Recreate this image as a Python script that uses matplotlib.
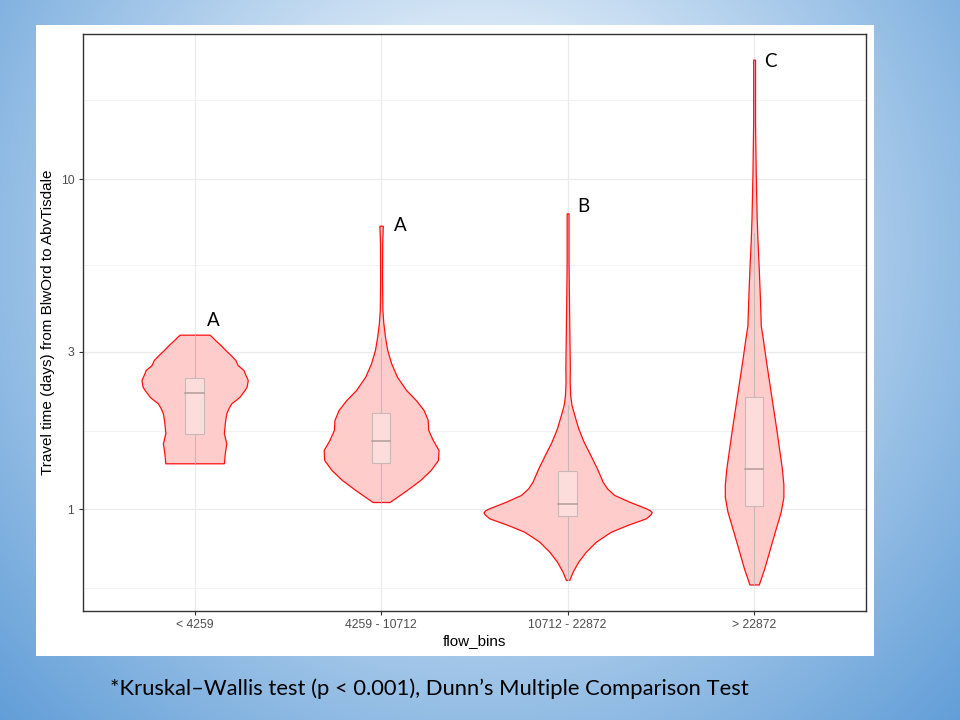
import numpy as np
import matplotlib
matplotlib.use("Agg")
import matplotlib.pyplot as plt
from matplotlib.patches import Rectangle
from matplotlib.ticker import FixedLocator, NullFormatter

# categories on the x axis
categories = ["< 4259", "4259 - 10712", "10712 - 22872", "> 22872"]

# violin outlines: travel time (days) and half width (x units)
g1_y = [3.379, 3.324, 3.255, 3.144, 3.035, 2.932, 2.831, 2.734, 2.641, 2.551,
        2.463, 2.351, 2.298, 2.192, 2.143, 2.094, 2.026, 1.952, 1.890, 1.821,
        1.699, 1.584, 1.477, 1.378]
g1_hw = [0.080, 0.094, 0.110, 0.139, 0.165, 0.193, 0.219, 0.231, 0.262, 0.273,
         0.285, 0.279, 0.268, 0.241, 0.220, 0.197, 0.182, 0.170, 0.166, 0.162,
         0.157, 0.170, 0.162, 0.157]

g2_y = [7.222, 6.387, 5.061, 4.012, 3.658, 3.331, 3.035, 2.767, 2.521, 2.298,
        2.143, 1.998, 1.864, 1.739, 1.621, 1.512, 1.410, 1.315, 1.227, 1.144,
        1.092, 1.052]
g2_hw = [0.009, 0.006, 0.005, 0.007, 0.012, 0.021, 0.033, 0.054, 0.085, 0.134,
         0.186, 0.228, 0.250, 0.253, 0.277, 0.308, 0.305, 0.266, 0.210, 0.138,
         0.087, 0.045]

g3_y = [7.875, 5.618, 4.455, 2.673, 2.434, 2.219, 2.070, 1.930, 1.759, 1.602,
        1.460, 1.331, 1.212, 1.158, 1.105, 1.054, 1.007, 0.993, 0.979, 0.966,
        0.939, 0.897, 0.855, 0.798, 0.744, 0.694, 0.647, 0.611]
g3_hw = [0.005, 0.005, 0.007, 0.012, 0.011, 0.014, 0.021, 0.036, 0.057, 0.086,
         0.122, 0.157, 0.188, 0.211, 0.250, 0.331, 0.420, 0.442, 0.451, 0.445,
         0.420, 0.322, 0.232, 0.152, 0.098, 0.057, 0.027, 0.009]

g4_y = [22.99, 14.87, 10.23, 7.590, 6.537, 5.355, 4.389, 3.596, 3.338, 2.804,
        2.186, 1.703, 1.328, 1.188, 1.089, 0.985, 0.807, 0.661, 0.592]
g4_hw = [0.005, 0.005, 0.009, 0.014, 0.018, 0.025, 0.031, 0.036, 0.045, 0.064,
         0.093, 0.122, 0.149, 0.157, 0.157, 0.143, 0.098, 0.054, 0.025]

# boxplot stats per group
box_q1 = [1.687, 1.378, 0.954, 1.02]
box_med = [2.254, 1.610, 1.038, 1.328]
box_q3 = [2.503, 1.952, 1.309, 2.186]
whisk_lo = [1.378, 1.052, 0.611, 0.592]
whisk_hi = [3.379, 3.29, 2.07, 6.87]

# significance letters
letters = ["A", "A", "B", "C"]

y_ticks = [1, 3, 10]
y_minor = [0.577, 1.73, 5.48, 17.3]

caption = "*Kruskal\u2013Wallis test (p < 0.001), Dunn\u2019s Multiple Comparison Test"

profiles = [(g1_y, g1_hw), (g2_y, g2_hw), (g3_y, g3_hw), (g4_y, g4_hw)]

fig = plt.figure(figsize=(9.6, 7.2), dpi=100)

# slide background: radial blue gradient
bg = fig.add_axes([0, 0, 1, 1], zorder=-10)
bg.axis("off")
yy, xx = np.mgrid[0:720, 0:960]
d = np.hypot(xx - 480, yy - 250)
t = np.clip((d - 150) / 550, 0, 1) ** 0.9
light = np.array([0xEE, 0xF5, 0xFC]) / 255
dark = np.array([0x5B, 0x9A, 0xD6]) / 255
img = light[None, None, :] * (1 - t[..., None]) + dark[None, None, :] * t[..., None]
bg.imshow(img, aspect="auto", extent=[0, 1, 0, 1], origin="upper")
bg.set_xlim(0, 1)
bg.set_ylim(0, 1)

# white plot panel pasted on the slide
fig.patches.append(Rectangle((36 / 960, 1 - 656 / 720), 838 / 960, 631 / 720,
                             transform=fig.transFigure, facecolor="white",
                             edgecolor="none", zorder=-5))

ax = fig.add_axes([82.7 / 960, 1 - 611 / 720, 783.3 / 960, 577 / 720])
ax.set_facecolor("white")
ax.set_yscale("log")
ax.set_xlim(0.4, 4.6)
ax.set_ylim(0.492, 27.5)

for i, (ys, hw) in enumerate(profiles):
    pos = i + 1
    ys = np.array(ys)
    hw = np.array(hw)
    ax.fill_betweenx(ys, pos - hw, pos + hw, facecolor="#FFCCCC",
                     edgecolor="#FF1010", linewidth=0.9, zorder=3)
    # whiskers
    ax.plot([pos, pos], [whisk_lo[i], box_q1[i]], color="#C4B8B8", lw=0.8, zorder=4)
    ax.plot([pos, pos], [box_q3[i], whisk_hi[i]], color="#C4B8B8", lw=0.8, zorder=4)
    bw = 0.05
    ax.add_patch(Rectangle((pos - bw, box_q1[i]), 2 * bw, box_q3[i] - box_q1[i],
                           facecolor="#FDDCDC", edgecolor="#C8B8B8", lw=0.8, zorder=4))
    ax.plot([pos - bw, pos + bw], [box_med[i], box_med[i]], color="#B09C9C",
            lw=1.1, zorder=5)

# letters placed just right of each violin's top
letter_off = [(9, 10), (9, 0), (7, 5), (7, -1)]
for i, lab in enumerate(letters):
    top = max(profiles[i][0])
    ax.annotate(lab, (i + 1, top), xytext=letter_off[i], textcoords="offset points",
                ha="left", va="center", fontsize=13.5, family="Lato", color="black",
                zorder=6)

ax.set_xticks(range(1, 5))
ax.set_xticklabels(categories)
ax.yaxis.set_major_locator(FixedLocator(y_ticks))
ax.set_yticklabels([str(v) for v in y_ticks])
ax.yaxis.set_minor_locator(FixedLocator(y_minor))
ax.yaxis.set_minor_formatter(NullFormatter())
ax.tick_params(axis="y", which="minor", length=0)
ax.tick_params(which="major", length=3, width=0.8, color="#333333",
               labelsize=8.8, labelcolor="#4D4D4D", pad=3)
for lab in ax.get_xticklabels() + ax.get_yticklabels():
    lab.set_family("Liberation Sans")

ax.grid(True, which="major", color="#EBEBEB", lw=0.9, zorder=0)
ax.grid(True, which="minor", axis="y", color="#F0F0F0", lw=0.6, zorder=0)
ax.set_axisbelow(True)
for s in ax.spines.values():
    s.set_color("#333333")
    s.set_linewidth(1.0)

ax.set_xlabel("flow_bins", fontsize=11, family="Liberation Sans", color="black",
              labelpad=2)
ax.set_ylabel("Travel time (days) from BlwOrd to AbvTisdale", fontsize=11,
              family="Liberation Sans", color="black", labelpad=4)

fig.text(110 / 960, 1 - 689 / 720, caption, ha="left", va="center",
         fontsize=15.8, family="Lato", color="black")

fig.savefig("out.png", dpi=100)
